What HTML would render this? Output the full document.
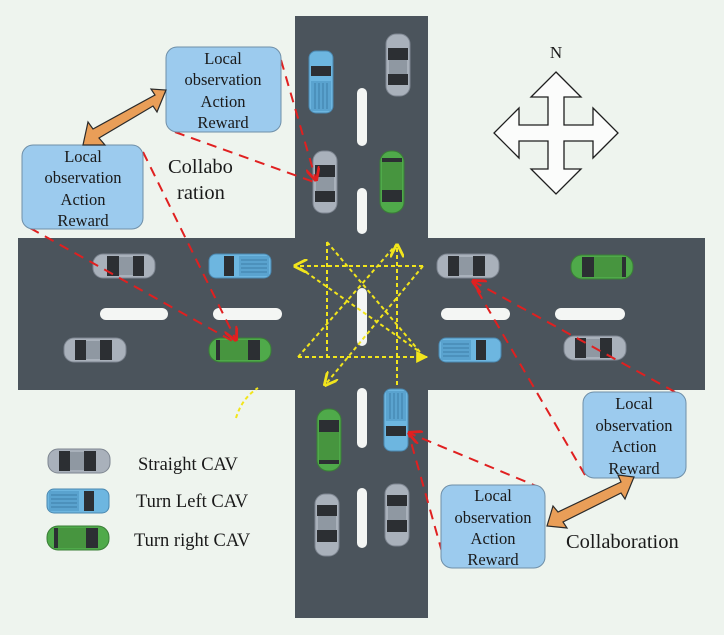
<!DOCTYPE html>
<html><head><meta charset="utf-8"><style>
html,body{margin:0;padding:0;background:#eef4ee;}
svg{display:block;font-family:"Liberation Serif",serif;}
</style></head><body>
<svg width="724" height="635" viewBox="0 0 724 635" xmlns="http://www.w3.org/2000/svg">
<defs>
<g id="cg">
 <rect x="-31" y="-12" width="62" height="24" rx="10" fill="#a9b1bb" stroke="#7d8590" stroke-width="1"/>
 <rect x="-17" y="-10" width="12" height="20" fill="#2c2f33"/>
 <rect x="9" y="-10" width="11" height="20" fill="#2c2f33"/>
 <rect x="-5" y="-9" width="14" height="18" fill="#8f98a2"/>
</g>
<g id="cb">
 <rect x="-31" y="-12" width="62" height="24" rx="7" fill="#6db6e0" stroke="#4a88b0" stroke-width="1"/>
 <rect x="-29" y="-10" width="30" height="20" fill="#5aa3cf"/>
 <path d="M-27,-6H-1M-27,-2H-1M-27,2H-1M-27,6H-1" stroke="#3f7fa8" stroke-width="1"/>
 <rect x="6" y="-10" width="10" height="20" fill="#2c2f33"/>
</g>
<g id="cn">
 <rect x="-31" y="-12" width="62" height="24" rx="11" fill="#4faa4a" stroke="#3a7e37" stroke-width="1"/>
 <rect x="-24" y="-10" width="4" height="20" fill="#2c2f33"/>
 <rect x="8" y="-10" width="12" height="20" fill="#2c2f33"/>
 <rect x="-20" y="-10" width="28" height="20" fill="#47953f"/>
</g>
<marker id="ra" viewBox="0 0 10 10" refX="9" refY="5" markerWidth="7" markerHeight="7" orient="auto"><path d="M0,0L10,5L0,10" fill="none" stroke="#e02020" stroke-width="2"/></marker>
<marker id="ya" viewBox="0 0 10 10" refX="9" refY="5" markerWidth="7" markerHeight="7" orient="auto"><path d="M0,0L10,5L0,10" fill="none" stroke="#f2e51c" stroke-width="2"/></marker>
<marker id="yt" viewBox="0 0 10 10" refX="9" refY="5" markerWidth="6" markerHeight="6" orient="auto"><path d="M0,0L10,5L0,10Z" fill="#f2e51c"/></marker>
</defs>

<rect x="295" y="16" width="133" height="602" fill="#4b545c"/>
<rect x="18" y="238" width="687" height="152" fill="#4b545c"/>
<g fill="#f4f6f4">
 <rect x="357" y="88" width="10" height="58" rx="5"/>
 <rect x="357" y="188" width="10" height="46" rx="5"/>
 <rect x="357" y="288" width="10" height="58" rx="5"/>
 <rect x="357" y="388" width="10" height="60" rx="5"/>
 <rect x="357" y="488" width="10" height="60" rx="5"/>
 <rect x="100" y="308" width="68" height="12" rx="6"/>
 <rect x="213" y="308" width="69" height="12" rx="6"/>
 <rect x="441" y="308" width="69" height="12" rx="6"/>
 <rect x="555" y="308" width="70" height="12" rx="6"/>
</g>

<use href="#cb" transform="translate(321,82) rotate(-90)"/>
<use href="#cg" transform="translate(398,65) rotate(90)"/>
<use href="#cg" transform="translate(325,182) rotate(90)"/>
<use href="#cn" transform="translate(392,182) rotate(90)"/>
<use href="#cg" transform="translate(124,266)"/>
<use href="#cb" transform="translate(240,266) rotate(180)"/>
<use href="#cg" transform="translate(95,350) rotate(180)"/>
<use href="#cn" transform="translate(240,350)"/>
<use href="#cg" transform="translate(468,266) rotate(180)"/>
<use href="#cn" transform="translate(602,267) rotate(180)"/>
<use href="#cb" transform="translate(470,350)"/>
<use href="#cg" transform="translate(595,348) rotate(180)"/>
<use href="#cn" transform="translate(329,440) rotate(-90)"/>
<use href="#cb" transform="translate(396,420) rotate(90)"/>
<use href="#cg" transform="translate(327,525) rotate(-90)"/>
<use href="#cg" transform="translate(397,515) rotate(-90)"/>
<use href="#cg" transform="translate(79,461) rotate(180)"/>
<use href="#cb" transform="translate(78,501)"/>
<use href="#cn" transform="translate(78,538)"/>

<g stroke="#f2e51c" stroke-width="2" stroke-dasharray="4,3" fill="none">
 <line x1="423" y1="266" x2="295" y2="266" marker-end="url(#ya)"/>
 <line x1="298" y1="357" x2="427" y2="357" marker-end="url(#yt)"/>
 <line x1="327" y1="242" x2="327" y2="357"/>
 <line x1="397" y1="385" x2="397" y2="245" marker-end="url(#ya)"/>
 <line x1="327" y1="242" x2="420" y2="352"/>
 <line x1="300" y1="268" x2="420" y2="352"/>
 <line x1="298" y1="357" x2="395" y2="246"/>
 <line x1="423" y1="266" x2="325" y2="385" marker-end="url(#ya)"/>
 <path d="M236,418 Q242,398 258,388"/>
</g>

<g stroke="#e02020" stroke-width="2" stroke-dasharray="10,7" fill="none">
 <line x1="281" y1="60" x2="316" y2="180" marker-end="url(#ra)"/>
 <line x1="175" y1="132" x2="314" y2="182"/>
 <line x1="143" y1="152" x2="236" y2="340" marker-end="url(#ra)"/>
 <line x1="30" y1="228" x2="236" y2="343"/>
 <line x1="675" y1="392" x2="473" y2="281" marker-end="url(#ra)"/>
 <line x1="585" y1="475" x2="473" y2="283"/>
 <line x1="541" y1="488" x2="409" y2="433" marker-end="url(#ra)"/>
 <line x1="442" y1="552" x2="409" y2="435"/>
</g>

<g fill="#9ccbee" stroke="#6f8fa8" stroke-width="1">
 <rect x="166" y="47" width="115" height="85" rx="11"/>
 <rect x="22" y="145" width="121" height="84" rx="11"/>
 <rect x="583" y="392" width="103" height="86" rx="11"/>
 <rect x="441" y="485" width="104" height="83" rx="11"/>
</g>
<g font-size="16.5" fill="#1a1a1a" text-anchor="middle">
 <text x="223" y="64">Local</text><text x="223" y="85">observation</text><text x="223" y="107">Action</text><text x="223" y="128">Reward</text>
 <text x="83" y="162">Local</text><text x="83" y="183">observation</text><text x="83" y="205">Action</text><text x="83" y="226">Reward</text>
 <text x="634" y="409">Local</text><text x="634" y="431">observation</text><text x="634" y="452">Action</text><text x="634" y="474">Reward</text>
 <text x="493" y="501">Local</text><text x="493" y="523">observation</text><text x="493" y="544">Action</text><text x="493" y="565">Reward</text>
</g>

<g fill="#e99e58" stroke="#2a2a2a" stroke-width="1.2">
 <path d="M83,145 L88,122 L93,129 L155,95 L151,89 L166,90 L157,112 L153,106 L99,138 L105,145 Z"/>
 <path d="M547,526 L553,506 L558,512 L621,482 L618,475 L634,477 L625,499 L621,493 L563,522 L567,528 Z"/>
</g>

<path transform="translate(556,133)" d="M0,-61 L25,-36 L8,-36 L8,-8 L37,-8 L37,-25 L62,0 L37,25 L37,8 L8,8 L8,36 L25,36 L0,61 L-25,36 L-8,36 L-8,8 L-37,8 L-37,25 L-62,0 L-37,-25 L-37,-8 L-8,-8 L-8,-36 L-25,-36 Z" fill="#fbfcfb" stroke="#1e1e1e" stroke-width="1.3"/>
<text x="556" y="58" font-size="17" text-anchor="middle" fill="#1a1a1a">N</text>

<g font-size="20.5" fill="#1a1a1a">
 <text x="168" y="173">Collabo</text>
 <text x="177" y="199">ration</text>
 <text x="566" y="548">Collaboration</text>
</g>
<g font-size="18.5" fill="#1a1a1a">
 <text x="138" y="470">Straight CAV</text>
 <text x="136" y="507">Turn Left CAV</text>
 <text x="134" y="546">Turn right CAV</text>
</g>
</svg>
</body></html>
